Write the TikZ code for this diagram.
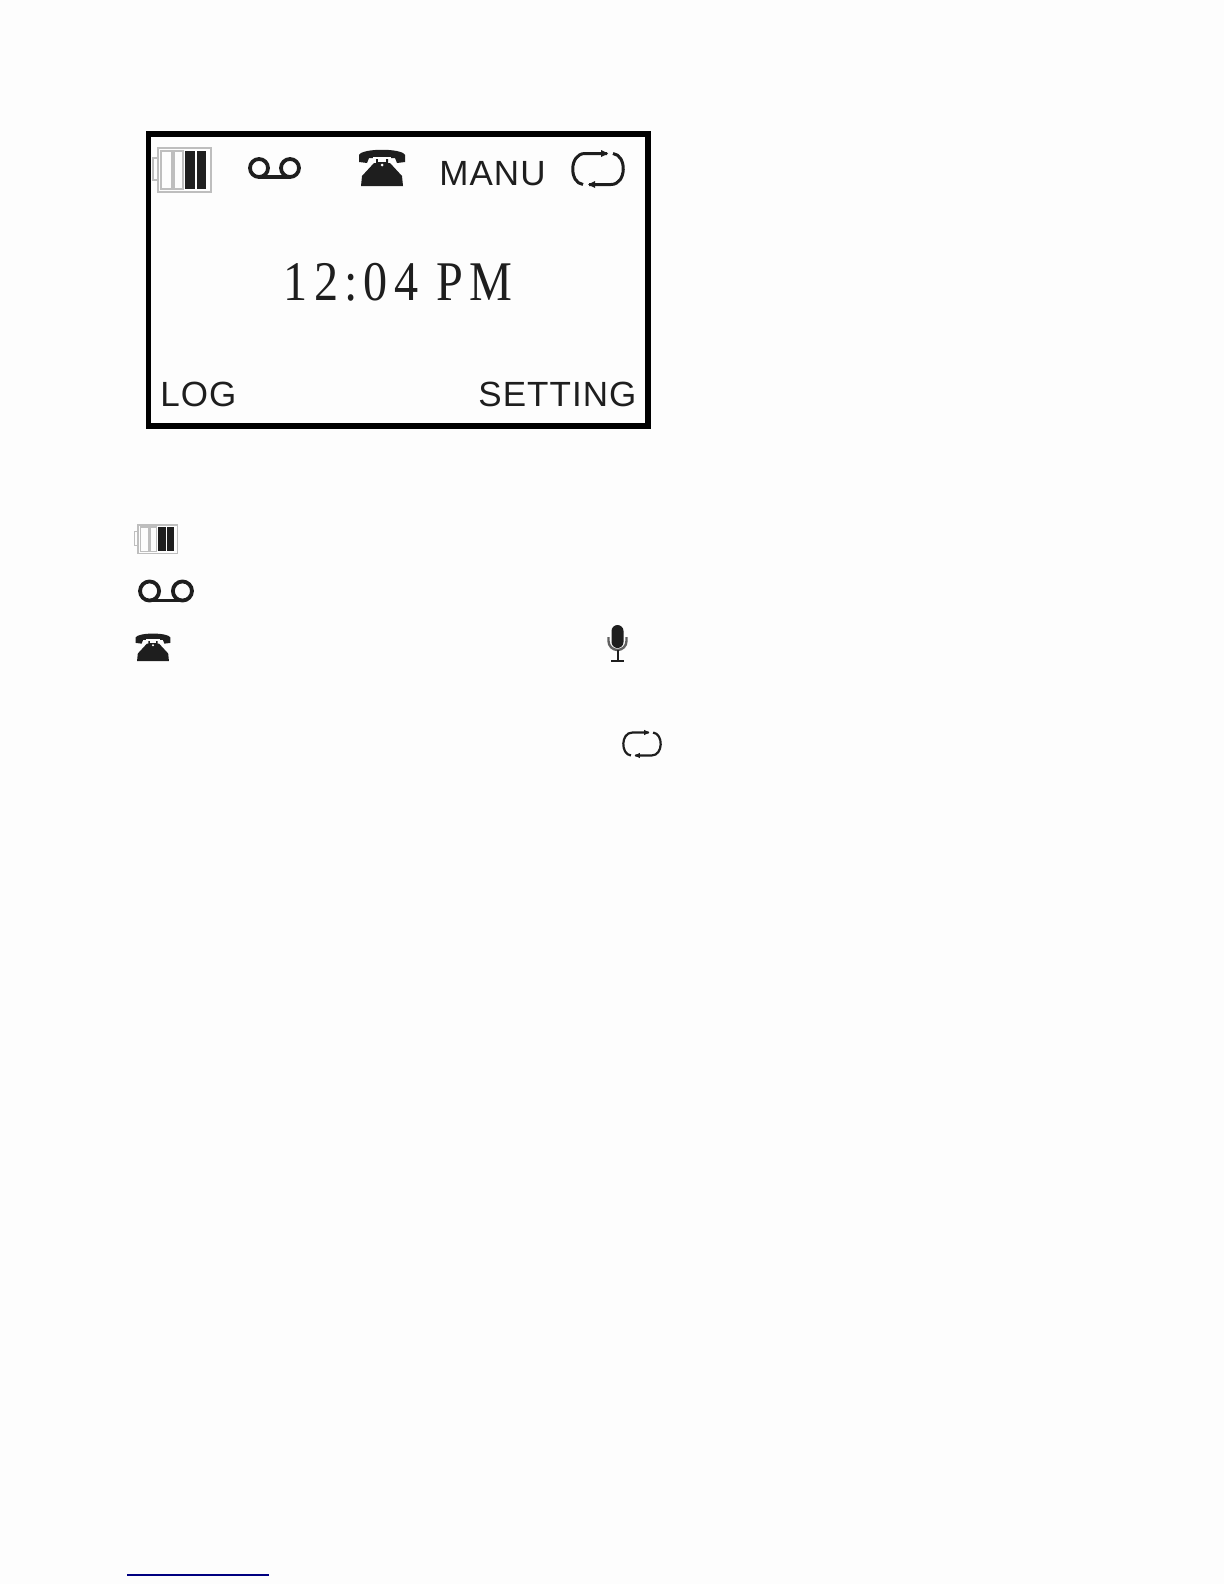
\documentclass[tikz,border=0pt]{standalone}
\usepackage{fontspec}
\setmainfont{Liberation Sans}
\newfontfamily\timefont[LetterSpace=11,FakeStretch=.86]{Liberation Serif}
\newfontfamily\lcdfont[LetterSpace=3]{Liberation Sans}
\definecolor{paper}{RGB}{253,253,253}
\definecolor{ink}{RGB}{30,30,30}
\definecolor{cellgray}{RGB}{190,190,190}
\tikzset{
  lcdtext/.style={anchor=base west, inner sep=0pt, text=ink, font=\lcdfont\fontsize{17.5}{20}\selectfont},
  battery/.pic={
    \draw [cellgray, line width=.6pt] (0, 0) rectangle (53, 44);
    \draw [cellgray, line width=.6pt] (-5, 10) rectangle (0, 32);
    \draw [cellgray, line width=.6pt] (3, 3) rectangle (14, 41);
    \draw [cellgray, line width=.6pt] (16, 3) rectangle (25, 41);
    \fill [ink] (27, 3) rectangle (37, 41);
    \fill [ink] (39, 3) rectangle (48, 41);
  },
  tape/.pic={
    \draw [ink] (-15.5, 0) circle (9);
    \draw [ink] (15.5, 0) circle (9);
    \draw [ink] (-15.5, 9) -- (15.5, 9);
  },
  phone/.pic={
    \fill [ink] (-23, 6) .. controls (-20, -1) and (20, -1) .. (23, 6) -- (23, 13) -- (15, 14) -- (13, 9) -- (-13, 9) -- (-15, 14) -- (-23, 13) -- cycle;
    \fill [ink] (-21, 37) -- (21, 37) -- (20, 27) -- (8, 14) -- (6, 14) -- (6, 9) -- (-6, 9) -- (-6, 14) -- (-8, 14) -- (-20, 27) -- cycle;
    \fill [paper] (-9, 8) rectangle (9, 10);
    \fill [paper] (-4, 10) rectangle (4, 13);
    \fill [paper] (0, 16) circle (1.5);
  },
  loopicon/.pic={
    \draw [ink] (-15, 15.5) .. controls (-29, 14) and (-29, -15.5) .. (-13, -15.5) -- (9, -15.5);
    \draw [ink] (15, -15.5) .. controls (29, -14) and (29, 15.5) .. (13, 15.5) -- (-9, 15.5);
    \fill [ink] (10, -15.5) -- (3, -19) -- (3, -12) -- cycle;
    \fill [ink] (-10, 15.5) -- (-3, 19) -- (-3, 12) -- cycle;
  },
}
\begin{document}
\begin{tikzpicture}[x=.5pt, y=-.5pt]
\useasboundingbox (0, 0) rectangle (1224, 1584);
\fill [paper] (0, 0) rectangle (1224, 1584);
% display
\draw [black, line width=2.8pt] (148.5, 134) rectangle (648, 426);
\pic (bigbattery) at (158, 148) {battery};
\pic [line width=1.9pt] (bigtape) at (274.5, 168) {tape};
\pic (bigphone) at (382, 149) {phone};
\node [lcdtext] (manu) at (439, 185) {MANU};
\pic [line width=1.5pt] (bigloop) at (598, 169) {loopicon};
\node [anchor=base, inner sep=0pt, text=ink, font=\timefont\fontsize{28}{32}\selectfont] (clock) at (398, 300) {12:04 PM};
\node [lcdtext] (log) at (160, 406) {LOG};
\node [lcdtext] (setting) at (478, 406) {SETTING};
% legend
\pic [xscale=.75, yscale=.64] (smallbattery) at (138, 525) {battery};
\pic [scale=1.06, line width=1.9pt] (smalltape) at (166, 591) {tape};
\pic [scale=.76] (smallphone) at (153, 633) {phone};
\pic [scale=.74, line width=1.1pt] (smallloop) at (642, 744) {loopicon};
% microphone
\fill [ink] (611.5, 631) arc (180:360:6) -- (623.5, 642) arc (0:180:6) -- cycle;
\draw [ink!70, line width=1.2pt] (608.5, 637) -- (608.5, 641) arc (180:0:9) -- (626.5, 637);
\draw [ink, line width=1pt] (617.5, 650) -- (617.5, 661);
\draw [ink, line width=1pt] (611, 661) -- (624, 661);
% footnote rule
\draw [blue!50!black, line width=.7pt] (127, 1575) -- (269, 1575);
\end{tikzpicture}
\end{document}
